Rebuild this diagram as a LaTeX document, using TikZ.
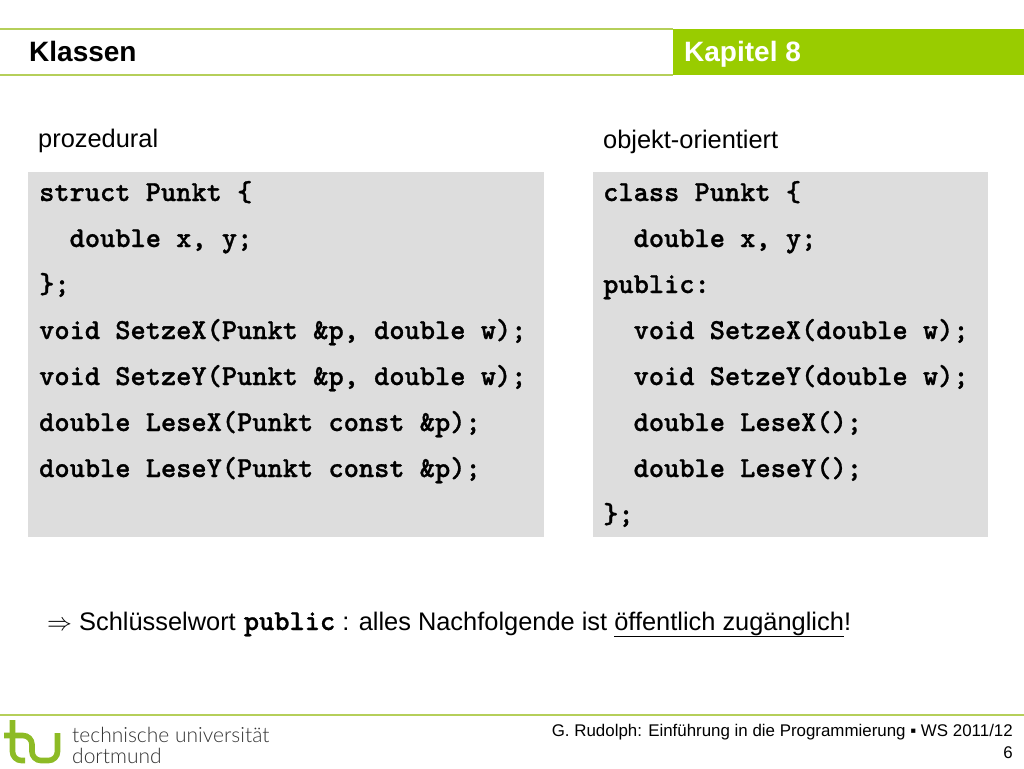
\documentclass[tikz,border=0pt]{standalone}
\usepackage{fontspec}
\setmainfont{Liberation Sans}
\newfontfamily\logofont{Lato Light}
\newfontfamily\codefont[BoldFeatures={FakeBold=1}]{Latin Modern Mono Light}
\definecolor{tugreen}{HTML}{99CC00}
\definecolor{tuline}{HTML}{B5CF5A}
\definecolor{tulogo}{HTML}{8DBB25}
\definecolor{codegray}{HTML}{DDDDDD}
\tikzset{
  codebox/.style={fill=codegray, inner sep=0pt, anchor=north west},
  codeline/.style={anchor=base west, inner sep=0pt, font=\codefont\bfseries\fontsize{29}{29}\selectfont},
  heading/.style={anchor=base west, inner sep=0pt, font=\fontsize{25.4}{25.4}\selectfont},
  titletext/.style={anchor=base west, inner sep=0pt, font=\fontsize{28}{28}\bfseries\selectfont},
  logotext/.style={anchor=base west, inner sep=0pt, text=black!80, font=\logofont\fontsize{21}{21}\selectfont},
  logopath/.style={tulogo, line width=5.6pt, rounded corners=9pt},
  footer/.style={anchor=base east, inner sep=0pt, font=\fontsize{16.9}{16.9}\selectfont}
}

\begin{document}
\begin{tikzpicture}[x=1pt, y=-1pt]
  \useasboundingbox (0,0) rectangle (1024,768);

  % header
  \fill[tugreen] (673,29) rectangle (1024,75);
  \draw[tuline, line width=1.5pt] (0,29) -- (673,29);
  \draw[tuline, line width=1.5pt] (0,75) -- (673,75);
  \node[titletext] (title) at (29,61) {Klassen};
  \node[titletext, text=white] (chapter) at (684,61) {Kapitel 8};

  % code boxes
  \node[codebox, minimum width=516pt, minimum height=365pt] (procbox) at (28,172) {};
  \node[codebox, minimum width=395pt, minimum height=365pt] (oobox) at (593,172) {};
  \node[heading] (proc) at (38,147) {prozedural};
  \node[heading] (oo) at (603,148) {objekt-orientiert};

  \foreach \y/\code in {201/{struct Punkt \{},
      247/{\ \ double x, y;},
      293/{\};},
      339/{void SetzeX(Punkt \&p, double w);},
      385/{void SetzeY(Punkt \&p, double w);},
      431/{double LeseX(Punkt const \&p);},
      477/{double LeseY(Punkt const \&p);}}
    \node[codeline] (proc\y) at (39,\y) {\code};

  \foreach \y/\code in {201/{class Punkt \{},
      247/{\ \ double x, y;},
      293/{public:},
      339/{\ \ void SetzeX(double w);},
      385/{\ \ void SetzeY(double w);},
      431/{\ \ double LeseX();},
      477/{\ \ double LeseY();},
      523/{\};}}
    \node[codeline] (oo\y) at (603,\y) {\code};

  % conclusion
  \node[heading] (note) at (47,630)
    {$\Rightarrow$ Schlüsselwort\kern1pt{} {\codefont\bfseries\fontsize{29}{29}\selectfont public} : alles Nachfolgende ist \underline{öffentlich zugänglich}!};

  % footer
  \draw[tuline, line width=1.5pt] (0,715) -- (1024,715);
  \draw[logopath] (12.5,720) -- (12.5,760.5) -- (25,760.5);
  \draw[logopath] (4,735.5) -- (32,735.5) -- (32,760.5) -- (57.5,760.5) -- (57.5,733);
  \node[logotext] (uni) at (72,742) {technische universität};
  \node[logotext] (city) at (72,763) {dortmund};
  \node[footer] (lecture) at (1013,736) {G. Rudolph: Einführung in die Programmierung ▪ WS 2011/12};
  \node[footer] (page) at (1013,758) {6};
\end{tikzpicture}
\end{document}
